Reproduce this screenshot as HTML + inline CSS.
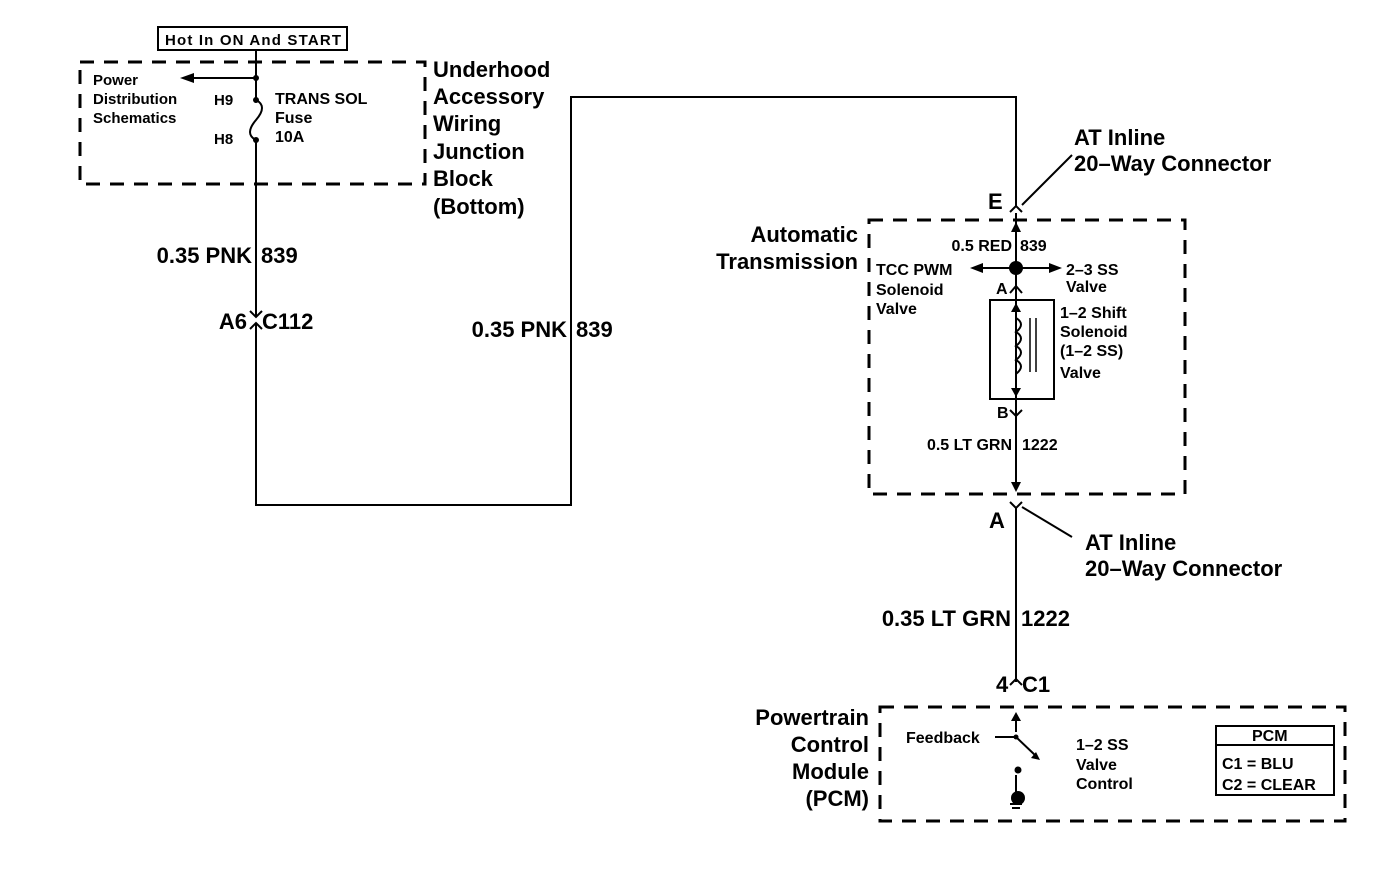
<!DOCTYPE html>
<html><head><meta charset="utf-8"><style>
html,body{margin:0;padding:0;background:#fff;}
svg{display:block;font-family:"Liberation Sans",Arial,sans-serif;font-weight:bold;}
.L{font-size:22px;}
.M{font-size:16px;}
.S{font-size:15px;}
</style></head><body>
<svg width="1392" height="878" viewBox="0 0 1392 878" xmlns="http://www.w3.org/2000/svg">
<g fill="none" stroke="#000" stroke-width="3" stroke-dasharray="14,10">
<rect x="80" y="62" width="345" height="122"/>
<rect x="869" y="220" width="316" height="274"/>
<rect x="880" y="707" width="465" height="114"/>
</g>
<g fill="none" stroke="#000" stroke-width="2">
<rect x="158" y="27" width="189" height="23"/>
<path d="M256 50 V100 M256 140 V316 M256 323 V505 H571 V97 H1016 V207 M1016 213 V490 M1016 508 V682"/>
<path d="M256 100 q12 6 0 20 q-12 14 0 20"/>
<path d="M256 78 H192"/>
<path d="M250 311 l6 6 l6 -6 M250 329 l6 -6 l6 6"/>
<path d="M1010 212 l6 -6 l6 6 M1022 205 l50 -50"/>
<path d="M1010 502 l6 6 l6 -6 M1022 507 l50 30"/>
<path d="M1010 293 l6 -7 l6 7 M1010 410 l6 6 l6 -6"/>
<path d="M1016 268 H980 M1016 268 H1052"/>
<rect x="990" y="300" width="64" height="99"/>
<path d="M1016 306 V394" stroke-width="1.5"/>
<path d="M1016 318 q10 6 0 14 q10 6 0 14 q10 6 0 14 q10 6 0 14" />
<path d="M1030 318 V372 M1036 318 V372" stroke-width="1.5"/>
<path d="M1016 720 V732 M995 737 H1016 L1036 756 M1016 775 V793 M1010 804 h12 M1012 808 h8"/>
<rect x="1216" y="726" width="118" height="69"/>
<path d="M1216 745 H1334"/>
<path d="M1010 685 l6 -6 l6 6"/>
</g>
<g fill="#000">
<path d="M180 78 l14 -5 v10 z"/>
<circle cx="256" cy="78" r="3"/><circle cx="256" cy="100" r="3"/><circle cx="256" cy="140" r="3"/>
<circle cx="1016" cy="268" r="7"/>
<path d="M970 268 l13 -5 v10 z M1062 268 l-13 -5 v10 z"/>
<path d="M1016 222 l-5 10 h10 z M1016 492 l-5 -10 h10 z M1016 303 l-5 9 h10 z M1016 397 l-5 -9 h10 z M1016 712 l-5 9 h10 z M1040 760 l-9 -2 l5 -6 z"/>
<circle cx="1016" cy="737" r="2.5"/>
<circle cx="1018" cy="770" r="3.5"/>
<circle cx="1018" cy="798" r="7"/>
</g>
<g fill="#000">
<text x="165" y="45" class="S" textLength="176">Hot In ON And START</text>
<text x="93" y="85" class="S">Power</text>
<text x="93" y="104" class="S">Distribution</text>
<text x="93" y="123" class="S">Schematics</text>
<text x="214" y="105" class="S">H9</text>
<text x="214" y="144" class="S">H8</text>
<text x="275" y="104" class="M">TRANS  SOL</text>
<text x="275" y="123" class="M">Fuse</text>
<text x="275" y="142" class="M">10A</text>
<text x="433" y="77" class="L">Underhood</text>
<text x="433" y="104" class="L">Accessory</text>
<text x="433" y="131" class="L">Wiring</text>
<text x="433" y="159" class="L">Junction</text>
<text x="433" y="186" class="L">Block</text>
<text x="433" y="214" class="L">(Bottom)</text>
<text x="252" y="263" class="L" text-anchor="end">0.35 PNK</text>
<text x="261" y="263" class="L">839</text>
<text x="247" y="329" class="L" text-anchor="end">A6</text>
<text x="262" y="329" class="L">C112</text>
<text x="567" y="337" class="L" text-anchor="end">0.35 PNK</text>
<text x="576" y="337" class="L">839</text>
<text x="1074" y="145" class="L">AT Inline</text>
<text x="1074" y="171" class="L">20–Way Connector</text>
<text x="988" y="209" class="L">E</text>
<text x="858" y="242" class="L" text-anchor="end">Automatic</text>
<text x="858" y="269" class="L" text-anchor="end">Transmission</text>
<text x="1012" y="251" class="M" text-anchor="end">0.5 RED</text>
<text x="1020" y="251" class="M">839</text>
<text x="876" y="275" class="M">TCC PWM</text>
<text x="876" y="295" class="M">Solenoid</text>
<text x="876" y="314" class="M">Valve</text>
<text x="1066" y="275" class="M">2–3 SS</text>
<text x="1066" y="292" class="M">Valve</text>
<text x="996" y="294" class="M">A</text>
<text x="1060" y="318" class="M">1–2 Shift</text>
<text x="1060" y="337" class="M">Solenoid</text>
<text x="1060" y="356" class="M">(1–2 SS)</text>
<text x="1060" y="378" class="M">Valve</text>
<text x="997" y="418" class="M">B</text>
<text x="1012" y="450" class="M" text-anchor="end">0.5 LT GRN</text>
<text x="1022" y="450" class="M">1222</text>
<text x="989" y="528" class="L">A</text>
<text x="1085" y="550" class="L">AT Inline</text>
<text x="1085" y="576" class="L">20–Way Connector</text>
<text x="1011" y="626" class="L" text-anchor="end">0.35 LT GRN</text>
<text x="1021" y="626" class="L">1222</text>
<text x="996" y="692" class="L">4</text>
<text x="1022" y="692" class="L">C1</text>
<text x="869" y="725" class="L" text-anchor="end">Powertrain</text>
<text x="869" y="752" class="L" text-anchor="end">Control</text>
<text x="869" y="779" class="L" text-anchor="end">Module</text>
<text x="869" y="806" class="L" text-anchor="end">(PCM)</text>
<text x="906" y="743" class="M">Feedback</text>
<text x="1076" y="750" class="M">1–2 SS</text>
<text x="1076" y="770" class="M">Valve</text>
<text x="1076" y="789" class="M">Control</text>
<text x="1252" y="741" class="M">PCM</text>
<text x="1222" y="769" class="M">C1 = BLU</text>
<text x="1222" y="790" class="M">C2 = CLEAR</text>
</g>
</svg>
</body></html>
